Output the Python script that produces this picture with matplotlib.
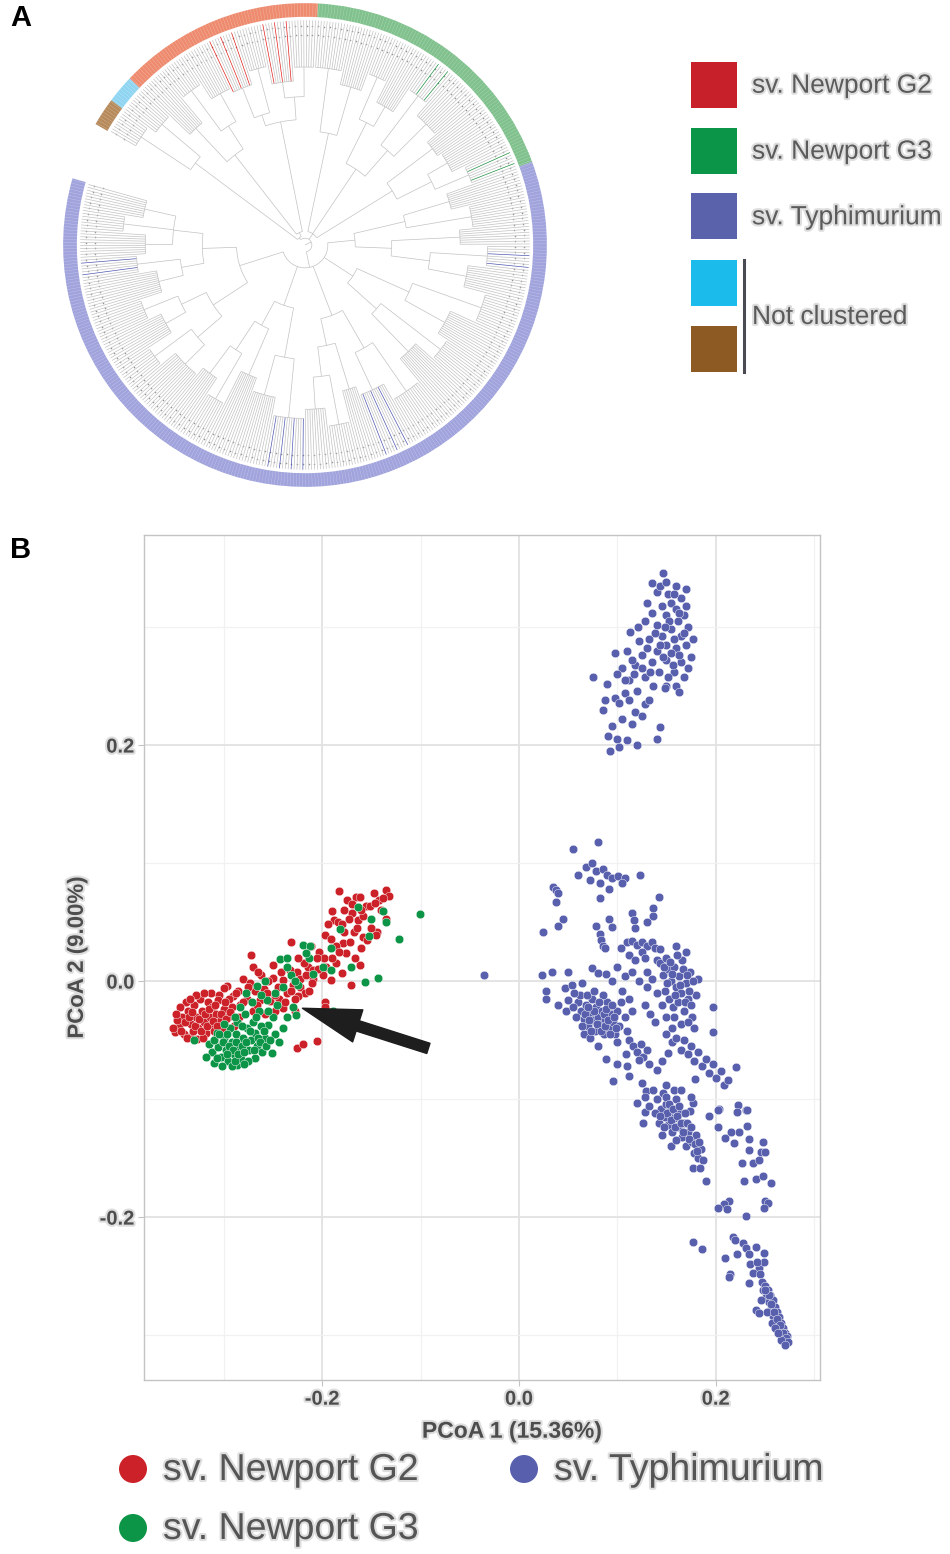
import numpy as np
import matplotlib
matplotlib.use('Agg')
import matplotlib.pyplot as plt
from matplotlib.patches import Wedge, Rectangle, Circle
from matplotlib.collections import LineCollection
import matplotlib.patheffects as pe

plt.rcParams['font.family'] = ['Liberation Sans', 'DejaVu Sans']

# ---------------- panel A : tree (ring order, counter-clockwise) ----------------
group_names = ['sv. Typhimurium', 'sv. Newport G3', 'sv. Newport G2', 'nc light', 'nc brown']
group_tips = [288, 89, 66, 9, 9]
ring_colors = ['#a0a3dc', '#80c18d', '#ee8b6f', '#8fd5f2', '#b68a5b']
branch_colors = ['#4e57b2', '#1c8e3e', '#e3201b', '#33b4e6', '#8c5a22']
tree_start = 164.0   # degrees, where the blue clade starts
tree_span = 346.0

# nodes: [radius, child, child, ...]; fans of tips: (radius, n_tips[, highlighted])
blue_tree = [0.10,
             [0.30,
              [0.45, [0.58, (0.72, 9), (0.80, 7), (0.70, 10)], [0.55, (0.74, 8, 1), (0.66, 12)]],
              [0.48, [0.60, (0.76, 9), (0.70, 11)], [0.62, (0.82, 8), (0.74, 14)]]],
             [0.28,
              [0.40, [0.55, (0.70, 9), (0.78, 8)], (0.62, 10)],
              [0.50, (0.68, 12), (0.76, 14, 1)]],
             [0.33,
              [0.45, [0.58, (0.72, 10), (0.80, 9)], (0.66, 8)],
              [0.52, (0.70, 13, 1), (0.78, 13)]],
             [0.25,
              [0.42, (0.65, 12), (0.75, 10)],
              [0.50, (0.70, 13), (0.82, 12)]],
             [0.22,
              [0.38, [0.55, (0.72, 11), (0.80, 9, 1)], (0.68, 8)],
              [0.45, (0.74, 10), (0.66, 9)]]]
green_tree = [0.06,
              [0.45, [0.62, (0.78, 8, 1), (0.72, 10)], (0.70, 9)],
              [0.40, [0.55, (0.75, 12), (0.82, 9, 1)], [0.60, (0.70, 10), (0.80, 8)]],
              [0.50, (0.72, 11), (0.78, 12)]]
red_tree = [0.06,
            [0.55, [0.65, (0.78, 9), (0.72, 11, 1)], [0.60, (0.80, 8), (0.74, 10, 1)]],
            [0.50, [0.62, (0.76, 10), (0.84, 9)], (0.70, 9)]]
nc_tree = [0.60, (0.82, 9), (0.86, 9)]
tree = [0.03, blue_tree, green_tree, [0.04, red_tree, nc_tree]]

# ---------------- panel B : PCoA points ----------------
g2_pts = [(-0.183, 0.076), (-0.175, 0.069), (-0.166, 0.071), (-0.161, 0.071), (-0.147, 0.075),
          (-0.135, 0.077), (-0.132, 0.072), (-0.142, 0.069), (-0.155, 0.064), (-0.151, 0.064),
          (-0.190, 0.059), (-0.170, 0.058), (-0.173, 0.053), (-0.164, 0.052), (-0.188, 0.052),
          (-0.184, 0.050), (-0.135, 0.053), (-0.194, 0.048), (-0.178, 0.042), (-0.168, 0.042),
          (-0.144, 0.042), (-0.145, 0.039), (-0.197, 0.039), (-0.191, 0.036), (-0.158, 0.037),
          (-0.154, 0.035), (-0.179, 0.032), (-0.176, 0.024), (-0.232, 0.033), (-0.203, 0.025),
          (-0.198, 0.020), (-0.205, 0.020), (-0.272, 0.022), (-0.250, 0.014), (-0.270, 0.012),
          (-0.161, 0.014), (-0.214, 0.012), (-0.209, 0.009), (-0.199, 0.005), (-0.226, 0.008),
          (-0.233, 0.009), (-0.180, 0.007), (-0.191, 0.001), (-0.171, -0.003), (-0.209, 0.002),
          (-0.250, 0.003), (-0.240, 0.001), (-0.280, 0.002), (-0.297, -0.004), (-0.300, -0.006),
          (-0.273, -0.002), (-0.268, -0.008), (-0.259, -0.007), (-0.222, -0.005), (-0.217, -0.010),
          (-0.225, -0.013), (-0.236, -0.010), (-0.244, -0.015), (-0.253, -0.017), (-0.263, -0.016),
          (-0.313, -0.010), (-0.305, -0.012), (-0.291, -0.013), (-0.283, -0.020), (-0.270, -0.025),
          (-0.197, -0.018), (-0.197, -0.022), (-0.240, -0.023), (-0.228, -0.025), (-0.226, -0.057),
          (-0.219, -0.053), (-0.205, -0.051), (-0.213, -0.008), (-0.230, -0.003), (-0.245, -0.005),
          (-0.255, 0.000), (-0.262, 0.005), (-0.285, -0.008), (-0.295, -0.015), (-0.276, -0.015),
          (-0.248, -0.025), (-0.258, -0.028), (-0.265, 0.008), (-0.242, 0.008), (-0.218, 0.015),
          (-0.225, 0.020), (-0.211, 0.030), (-0.186, 0.015), (-0.167, 0.020), (-0.160, 0.028),
          (-0.150, 0.045), (-0.140, 0.060), (-0.158, 0.055), (-0.178, 0.060), (-0.186, 0.030),
          (-0.350, -0.043), (-0.345, -0.038), (-0.342, -0.030), (-0.340, -0.045), (-0.336, -0.025),
          (-0.334, -0.047), (-0.333, -0.036), (-0.330, -0.020), (-0.328, -0.030), (-0.327, -0.049),
          (-0.326, -0.040), (-0.324, -0.015), (-0.322, -0.025), (-0.320, -0.035), (-0.318, -0.044),
          (-0.316, -0.018), (-0.314, -0.030), (-0.314, -0.037), (-0.312, -0.022), (-0.310, -0.042),
          (-0.308, -0.028), (-0.306, -0.016), (-0.304, -0.034), (-0.338, -0.018), (-0.344, -0.022),
          (-0.347, -0.033), (-0.331, -0.042), (-0.321, -0.048), (-0.300, -0.024), (-0.296, -0.030),
          (-0.302, -0.040), (-0.310, -0.050), (-0.292, -0.022), (-0.288, -0.010), (-0.284, -0.030),
          (-0.290, -0.038),
          (-0.352, -0.040), (-0.348, -0.028), (-0.343, -0.042), (-0.339, -0.035), (-0.337, -0.048),
          (-0.335, -0.030), (-0.332, -0.026), (-0.329, -0.038), (-0.325, -0.032), (-0.323, -0.042),
          (-0.319, -0.028), (-0.317, -0.038), (-0.315, -0.024), (-0.311, -0.034), (-0.309, -0.020),
          (-0.307, -0.038), (-0.303, -0.028), (-0.299, -0.018), (-0.298, -0.032), (-0.294, -0.026),
          (-0.328, -0.012), (-0.320, -0.010), (-0.334, -0.015), (-0.280, -0.018), (-0.275, -0.005),
          (-0.266, -0.020), (-0.256, -0.010), (-0.248, -0.012), (-0.238, -0.018), (-0.232, -0.008),
          (-0.228, -0.015), (-0.222, 0.002), (-0.216, 0.005), (-0.210, -0.002), (-0.204, 0.010),
          (-0.196, 0.012), (-0.190, 0.020), (-0.183, 0.025), (-0.172, 0.033), (-0.165, 0.045),
          (-0.180, 0.048), (-0.170, 0.065), (-0.160, 0.060), (-0.146, 0.066), (-0.138, 0.070)]

g3_pts = [(-0.101, 0.057), (-0.122, 0.036), (-0.138, 0.059), (-0.135, 0.050), (-0.164, 0.063),
          (-0.150, 0.053), (-0.152, 0.038), (-0.182, 0.044), (-0.191, 0.028), (-0.219, 0.031),
          (-0.212, 0.030), (-0.213, 0.020), (-0.216, 0.024), (-0.199, 0.012), (-0.191, 0.009),
          (-0.171, 0.012), (-0.156, -0.001), (-0.143, 0.003), (-0.243, 0.019), (-0.236, 0.020),
          (-0.236, 0.012), (-0.258, 0.000), (-0.266, -0.004), (-0.277, -0.010), (-0.224, -0.003),
          (-0.209, 0.006), (-0.256, -0.016), (-0.246, -0.020), (-0.230, -0.022), (-0.227, -0.029),
          (-0.236, -0.030), (-0.189, -0.025), (-0.310, -0.069), (-0.286, -0.071), (-0.268, -0.065),
          (-0.251, -0.061), (-0.258, -0.048), (-0.255, -0.037), (-0.315, -0.053), (-0.330, -0.050),
          (-0.307, -0.044), (-0.312, -0.060), (-0.306, -0.056), (-0.303, -0.064), (-0.300, -0.048),
          (-0.298, -0.058), (-0.296, -0.068), (-0.294, -0.040), (-0.292, -0.052), (-0.290, -0.062),
          (-0.288, -0.045), (-0.286, -0.035), (-0.284, -0.056), (-0.282, -0.066), (-0.280, -0.048),
          (-0.278, -0.028), (-0.276, -0.040), (-0.274, -0.058), (-0.272, -0.050), (-0.270, -0.035),
          (-0.268, -0.044), (-0.266, -0.055), (-0.264, -0.025), (-0.262, -0.038), (-0.261, -0.060),
          (-0.275, -0.068), (-0.292, -0.072), (-0.302, -0.072), (-0.283, -0.022), (-0.271, -0.018),
          (-0.262, -0.012), (-0.250, -0.030), (-0.248, -0.045), (-0.244, -0.052), (-0.240, -0.040),
          (-0.300, -0.036), (-0.318, -0.064),
          (-0.310, -0.050), (-0.305, -0.045), (-0.301, -0.052), (-0.297, -0.045), (-0.295, -0.055),
          (-0.291, -0.058), (-0.289, -0.068), (-0.287, -0.052), (-0.285, -0.062), (-0.281, -0.055),
          (-0.279, -0.060), (-0.277, -0.052), (-0.273, -0.042), (-0.269, -0.058), (-0.267, -0.030),
          (-0.265, -0.048), (-0.263, -0.052), (-0.259, -0.042), (-0.257, -0.055), (-0.253, -0.050),
          (-0.281, -0.038), (-0.289, -0.030), (-0.297, -0.062), (-0.307, -0.065), (-0.279, -0.070),
          (-0.255, -0.025), (-0.248, -0.010), (-0.240, -0.005), (-0.232, 0.005), (-0.228, 0.000)]

typh_pts = [(-0.035, 0.005),
            # upper group
            (0.146, 0.346), (0.135, 0.337), (0.160, 0.335), (0.170, 0.332), (0.165, 0.325),
            (0.152, 0.328), (0.140, 0.330), (0.155, 0.320), (0.145, 0.318), (0.160, 0.315),
            (0.170, 0.318), (0.135, 0.312), (0.150, 0.310), (0.162, 0.305), (0.172, 0.300),
            (0.140, 0.302), (0.128, 0.305), (0.155, 0.298), (0.145, 0.292), (0.165, 0.292),
            (0.132, 0.290), (0.150, 0.285), (0.160, 0.282), (0.170, 0.285), (0.122, 0.288),
            (0.140, 0.280), (0.113, 0.296), (0.110, 0.280), (0.125, 0.276), (0.135, 0.270),
            (0.150, 0.272), (0.165, 0.270), (0.175, 0.275), (0.118, 0.268), (0.105, 0.265),
            (0.098, 0.278), (0.142, 0.262), (0.158, 0.262), (0.168, 0.258), (0.128, 0.258),
            (0.112, 0.255), (0.100, 0.260), (0.136, 0.250), (0.150, 0.250), (0.160, 0.250),
            (0.120, 0.246), (0.108, 0.244), (0.075, 0.258), (0.090, 0.252), (0.088, 0.238),
            (0.098, 0.240), (0.102, 0.236), (0.085, 0.230), (0.112, 0.238), (0.128, 0.235),
            (0.118, 0.228), (0.125, 0.225), (0.105, 0.222), (0.095, 0.216), (0.115, 0.218),
            (0.091, 0.208), (0.100, 0.205), (0.110, 0.204), (0.143, 0.215), (0.140, 0.205),
            (0.148, 0.248), (0.093, 0.195), (0.120, 0.200), (0.102, 0.198), (0.132, 0.238),
            (0.143, 0.335), (0.150, 0.338), (0.158, 0.328), (0.168, 0.310), (0.163, 0.312),
            (0.153, 0.305), (0.148, 0.300), (0.158, 0.290), (0.168, 0.295), (0.138, 0.295),
            (0.143, 0.285), (0.155, 0.278), (0.163, 0.276), (0.130, 0.282), (0.146, 0.275),
            (0.157, 0.268), (0.125, 0.265), (0.133, 0.262), (0.152, 0.258), (0.163, 0.245),
            (0.117, 0.260), (0.172, 0.265), (0.177, 0.290), (0.130, 0.320), (0.121, 0.300),
            (0.115, 0.272), (0.108, 0.255),
            # lower group
            (0.080, 0.118), (0.055, 0.112), (0.068, 0.097), (0.074, 0.100), (0.078, 0.093),
            (0.085, 0.095), (0.060, 0.090), (0.072, 0.086), (0.090, 0.090), (0.095, 0.087),
            (0.101, 0.089), (0.108, 0.087), (0.105, 0.083), (0.123, 0.090), (0.082, 0.083),
            (0.092, 0.078), (0.035, 0.080), (0.038, 0.077), (0.040, 0.075), (0.038, 0.067),
            (0.025, 0.042), (0.045, 0.053), (0.040, 0.047), (0.082, 0.070), (0.078, 0.047),
            (0.082, 0.040), (0.083, 0.035), (0.085, 0.030), (0.087, 0.028), (0.092, 0.053),
            (0.095, 0.046), (0.115, 0.058), (0.117, 0.052), (0.118, 0.045), (0.136, 0.062),
            (0.142, 0.071), (0.136, 0.055), (0.130, 0.050), (0.110, 0.033), (0.115, 0.034),
            (0.120, 0.031), (0.125, 0.033), (0.130, 0.030), (0.135, 0.033), (0.138, 0.028),
            (0.143, 0.027), (0.125, 0.025), (0.112, 0.022), (0.118, 0.018), (0.128, 0.020),
            (0.140, 0.018), (0.104, 0.028), (0.023, 0.005), (0.034, 0.008), (0.050, 0.008),
            (0.028, -0.008), (0.028, -0.015), (0.047, -0.006), (0.054, -0.003), (0.064, -0.002),
            (0.074, 0.011), (0.080, 0.007), (0.089, 0.006), (0.095, 0.000), (0.100, 0.012),
            (0.108, 0.004), (0.115, 0.008), (0.122, 0.000), (0.105, -0.008), (0.112, -0.015),
            (0.130, 0.008), (0.040, -0.020), (0.048, -0.025), (0.060, -0.018), (0.063, -0.025),
            (0.066, -0.032), (0.068, -0.020), (0.070, -0.038), (0.072, -0.027), (0.074, -0.015),
            (0.075, -0.033), (0.077, -0.042), (0.078, -0.022), (0.080, -0.030), (0.082, -0.036),
            (0.084, -0.025), (0.086, -0.045), (0.088, -0.032), (0.090, -0.018), (0.092, -0.040),
            (0.094, -0.028), (0.096, -0.035), (0.098, -0.045), (0.100, -0.025), (0.102, -0.038),
            (0.066, -0.045), (0.072, -0.048), (0.058, -0.030), (0.055, -0.022), (0.085, -0.012),
            (0.104, -0.018), (0.108, -0.030), (0.110, -0.042), (0.112, -0.050), (0.100, -0.052),
            (0.115, -0.025), (0.143, 0.015), (0.146, 0.005), (0.148, -0.008), (0.150, 0.020),
            (0.152, 0.010), (0.153, -0.015), (0.155, 0.000), (0.157, -0.022), (0.158, 0.012),
            (0.160, -0.005), (0.162, -0.018), (0.163, 0.004), (0.165, -0.010), (0.166, 0.018),
            (0.168, -0.025), (0.170, -0.002), (0.172, -0.015), (0.174, 0.008), (0.176, -0.030),
            (0.150, -0.030), (0.145, -0.020), (0.140, -0.010), (0.135, 0.002), (0.130, -0.005),
            (0.128, -0.020), (0.133, -0.028), (0.138, -0.035), (0.156, -0.040), (0.165, -0.036),
            (0.180, -0.012), (0.182, 0.002), (0.160, 0.030), (0.170, 0.025), (0.116, -0.055),
            (0.120, -0.060), (0.124, -0.053), (0.126, -0.064), (0.130, -0.058), (0.122, -0.067),
            (0.110, -0.072), (0.100, -0.070), (0.132, -0.070), (0.096, -0.085), (0.150, -0.045),
            (0.156, -0.052), (0.160, -0.048), (0.165, -0.058), (0.168, -0.050), (0.172, -0.062),
            (0.175, -0.055), (0.178, -0.068), (0.182, -0.060), (0.186, -0.072), (0.190, -0.066),
            (0.193, -0.078), (0.197, -0.070), (0.200, -0.082), (0.205, -0.076), (0.208, -0.088),
            (0.212, -0.084), (0.197, -0.022), (0.197, -0.043), (0.221, -0.073), (0.231, -0.109),
            (0.140, -0.075), (0.145, -0.068), (0.089, -0.066), (0.080, -0.055), (0.112, -0.080),
            (0.120, -0.103), (0.125, -0.086), (0.129, -0.093), (0.128, -0.111), (0.126, -0.120),
            (0.109, -0.062), (0.152, -0.061), (0.158, -0.092), (0.177, -0.103), (0.179, -0.083),
            (0.193, -0.114), (0.203, -0.108), (0.223, -0.105), (0.232, -0.109), (0.232, -0.123),
            (0.062, -0.012), (0.064, -0.038), (0.067, -0.028), (0.069, -0.012), (0.071, -0.033),
            (0.073, -0.042), (0.076, -0.025), (0.079, -0.036), (0.081, -0.018), (0.083, -0.042),
            (0.086, -0.028), (0.087, -0.038), (0.089, -0.024), (0.091, -0.033), (0.093, -0.045),
            (0.095, -0.020), (0.097, -0.030), (0.099, -0.040), (0.070, -0.022), (0.076, -0.008),
            (0.056, -0.010), (0.050, -0.016), (0.147, 0.012), (0.151, -0.002), (0.154, 0.016),
            (0.156, 0.006), (0.159, -0.012), (0.161, 0.022), (0.164, -0.003), (0.167, 0.010),
            (0.169, -0.018), (0.171, 0.005), (0.173, -0.008), (0.175, -0.020), (0.177, 0.000),
            (0.178, -0.040), (0.172, -0.035), (0.158, -0.030),
            (0.136, -0.092), (0.140, -0.100), (0.144, -0.108), (0.146, -0.095), (0.148, -0.115),
            (0.150, -0.104), (0.152, -0.122), (0.154, -0.110), (0.156, -0.128), (0.158, -0.116),
            (0.160, -0.100), (0.162, -0.124), (0.164, -0.112), (0.166, -0.132), (0.168, -0.120),
            (0.170, -0.140), (0.172, -0.128), (0.174, -0.110), (0.176, -0.136), (0.178, -0.146),
            (0.180, -0.130), (0.182, -0.150), (0.185, -0.142), (0.187, -0.152), (0.142, -0.120),
            (0.138, -0.112), (0.132, -0.106), (0.128, -0.098), (0.155, -0.140), (0.160, -0.135),
            (0.145, -0.130), (0.177, -0.158), (0.190, -0.169), (0.150, -0.088), (0.165, -0.092),
            (0.175, -0.098), (0.149, -0.098), (0.151, -0.112), (0.153, -0.104), (0.155, -0.118),
            (0.157, -0.108), (0.159, -0.124), (0.161, -0.114), (0.163, -0.106), (0.165, -0.120),
            (0.167, -0.128), (0.169, -0.112), (0.171, -0.120), (0.173, -0.134), (0.175, -0.124),
            (0.179, -0.138), (0.181, -0.144), (0.183, -0.136), (0.147, -0.124), (0.143, -0.114),
            (0.184, -0.158), (0.202, -0.109), (0.222, -0.111), (0.202, -0.124), (0.216, -0.128),
            (0.224, -0.128), (0.209, -0.133), (0.219, -0.137), (0.234, -0.134), (0.248, -0.136),
            (0.234, -0.143), (0.246, -0.145), (0.250, -0.145), (0.227, -0.154), (0.238, -0.154),
            (0.244, -0.152), (0.229, -0.169), (0.241, -0.168), (0.248, -0.165), (0.256, -0.171),
            (0.250, -0.186), (0.253, -0.188), (0.249, -0.192), (0.214, -0.186), (0.208, -0.189),
            (0.202, -0.192), (0.211, -0.193), (0.231, -0.199), (0.177, -0.221), (0.186, -0.227),
            (0.218, -0.217), (0.220, -0.219), (0.228, -0.222), (0.231, -0.226), (0.241, -0.225),
            (0.249, -0.230), (0.222, -0.231), (0.234, -0.231), (0.209, -0.235), (0.215, -0.248),
            (0.214, -0.251), (0.235, -0.240), (0.244, -0.243), (0.249, -0.238), (0.238, -0.247),
            (0.234, -0.256), (0.241, -0.279), (0.244, -0.281), (0.242, -0.238), (0.245, -0.248),
            (0.247, -0.255), (0.248, -0.262), (0.250, -0.258), (0.251, -0.268), (0.253, -0.262),
            (0.254, -0.272), (0.255, -0.266), (0.256, -0.278), (0.258, -0.270), (0.258, -0.284),
            (0.260, -0.276), (0.261, -0.288), (0.262, -0.280), (0.263, -0.292), (0.264, -0.285),
            (0.265, -0.296), (0.266, -0.290), (0.267, -0.300), (0.268, -0.294), (0.269, -0.303),
            (0.270, -0.298), (0.271, -0.306), (0.272, -0.301), (0.257, -0.290), (0.252, -0.280),
            (0.246, -0.270), (0.256, -0.274), (0.259, -0.280), (0.262, -0.286), (0.265, -0.291),
            (0.268, -0.298), (0.271, -0.302), (0.273, -0.306), (0.254, -0.266), (0.250, -0.262),
            (0.260, -0.294), (0.266, -0.304), (0.263, -0.298), (0.270, -0.308)]

pcoa_labels = ['sv. Newport G2', 'sv. Newport G3', 'sv. Typhimurium']
pcoa_colors = ['#cc2128', '#0c9546', '#5860ad']
x_major = [-0.2, 0.0, 0.2]
y_major = [-0.2, 0.0, 0.2]
x_minor = [-0.3, -0.1, 0.1, 0.3]
y_minor = [-0.3, -0.1, 0.1, 0.3]
arrow_tip = (-0.220, -0.023)
arrow_tail = (-0.092, -0.057)

legend_a = ['sv. Newport G2', 'sv. Newport G3', 'sv. Typhimurium']
legend_a_colors = ['#c8202a', '#0a9548', '#5b62ac', '#1bbceb', '#8c5a22']

# ------------------------------------------------------------------
fig = plt.figure(figsize=(9.5, 15.54), dpi=100)
halo = [pe.withStroke(linewidth=3, foreground='#dedede')]

# ---- tree ----
axt = fig.add_axes([54 / 950, 1 - 496 / 1554, 502 / 950, 502 / 1554])
axt.set_xlim(-1.1, 1.1)
axt.set_ylim(-1.1, 1.1)
axt.set_aspect('equal')
axt.axis('off')

n_tips = sum(group_tips)
step = tree_span / n_tips
bounds = np.cumsum([0] + group_tips)
segs, cols = [], []
tip_angles = []
counter = [0]


def group_of(i):
    return int(np.searchsorted(bounds, i, side='right') - 1)


def radial(r0, r1, a, c):
    t = np.radians(a)
    segs.append([(r0 * np.cos(t), r0 * np.sin(t)), (r1 * np.cos(t), r1 * np.sin(t))])
    cols.append(c)


def arc(r, a0, a1, c):
    t = np.radians(np.linspace(a0, a1, max(2, int(abs(a1 - a0)) + 2)))
    segs.append(np.column_stack([r * np.cos(t), r * np.sin(t)]))
    cols.append(c)


gray = '#c2c2c2'


def walk(node, parent_r):
    if isinstance(node, tuple):
        r, n = node[0], node[1]
        first = counter[0]
        hl = len(node) > 2
        angs = [tree_start + (first + k + 0.5) * step for k in range(n)]
        counter[0] += n
        for k, a in enumerate(angs):
            c = branch_colors[group_of(first)] if (hl and k % 4 == 1) else gray
            radial(r, 0.985, a, c)
            tip_angles.append(a)
        arc(r, angs[0], angs[-1], gray)
        mid = 0.5 * (angs[0] + angs[-1])
    else:
        r = node[0]
        mids = [walk(ch, r) for ch in node[1:]]
        arc(r, mids[0], mids[-1], gray)
        mid = 0.5 * (mids[0] + mids[-1])
    radial(parent_r, r, mid, gray)
    return mid


walk(tree, 0.0)
axt.add_collection(LineCollection(segs, colors=cols, linewidths=0.5))

ta = np.radians(tip_angles)
for rr in (0.92, 0.96):
    axt.scatter(rr * np.cos(ta[::2]), rr * np.sin(ta[::2]), s=1.3, color='#3a3a3a', alpha=0.55, lw=0)

for g in range(len(group_tips)):
    a0 = tree_start + bounds[g] * step
    a1 = tree_start + bounds[g + 1] * step
    axt.add_patch(Wedge((0, 0), 1.06, a0, a1, width=0.06, facecolor=ring_colors[g], edgecolor='none'))
for a in tip_angles:
    t = np.radians(a)
    axt.plot([1.0 * np.cos(t), 1.06 * np.cos(t)], [1.0 * np.sin(t), 1.06 * np.sin(t)],
             color='white', lw=0.25, alpha=0.45)

# ---- PCoA ----
ax = fig.add_axes([144 / 950, 1 - 1380 / 1554, 676 / 950, 845 / 1554])
ax.set_xlim(-0.381, 0.306)
ax.set_ylim(-0.338, 0.378)
ax.set_xticks(x_major)
ax.set_yticks(y_major)
ax.set_xticks(x_minor, minor=True)
ax.set_yticks(y_minor, minor=True)
ax.set_xticklabels(['-0.2', '0.0', '0.2'])
ax.set_yticklabels(['-0.2', '0.0', '0.2'])
ax.grid(which='major', color='#e2e2e2', lw=1.3)
ax.grid(which='minor', color='#f1f1f1', lw=0.9)
ax.set_axisbelow(True)
for s in ax.spines.values():
    s.set_color('#c4c4c4')
    s.set_linewidth(1.0)
ax.tick_params(which='major', length=4, color='#c4c4c4', labelsize=14.5, labelcolor='#4d4d4d', pad=3)
ax.tick_params(which='minor', length=0)
for lab in ax.get_xticklabels() + ax.get_yticklabels():
    lab.set_fontweight('bold')
    lab.set_path_effects(halo)

for pts, col in zip([g2_pts, g3_pts, typh_pts], pcoa_colors):
    p = np.array(pts)
    ax.scatter(p[:, 0], p[:, 1], s=38, color=col, edgecolors='white', linewidths=0.3, zorder=3)

ax.annotate('', xy=arrow_tip, xytext=arrow_tail, zorder=5,
            arrowprops=dict(arrowstyle='simple,head_length=1.9,head_width=1.1,tail_width=0.35',
                            fc='#1e1e1e', ec='#1e1e1e', mutation_scale=22, shrinkA=0, shrinkB=0,
                            path_effects=[pe.withSimplePatchShadow(offset=(0, 0), shadow_rgbFace='#777', alpha=0.5)]))

ax.set_xlabel('PCoA 1 (15.36%)', fontsize=16.5, fontweight='bold', color='#4d4d4d', path_effects=halo)
ax.set_ylabel('PCoA 2 (9.00%)', fontsize=16, fontweight='bold', color='#4d4d4d', path_effects=halo)
ax.xaxis.set_label_coords(0.544, -0.047)
ax.yaxis.set_label_coords(-0.083, 0.50)

# ---- overlay: panel letters and legends (pixel coordinates) ----
ov = fig.add_axes([0, 0, 1, 1])
ov.set_xlim(0, 950)
ov.set_ylim(1554, 0)
ov.axis('off')
ov.patch.set_visible(False)

ov.text(10, 18, 'A', fontsize=21, fontweight='bold', va='center', ha='left', color='black')
ov.text(10, 550, 'B', fontsize=21, fontweight='bold', va='center', ha='left', color='black')

sq_y = [61.7, 127.7, 193.3, 260, 326]
for y, c in zip(sq_y, legend_a_colors):
    ov.add_patch(Rectangle((690.7, y), 46, 46, facecolor=c, edgecolor='none'))
for y, t in zip(sq_y[:3], legend_a):
    ov.text(752, y + 24, t, fontsize=19, color='#5b5b5b', va='center', ha='left', path_effects=halo)
ov.plot([744, 744], [260, 372], color='#4a4a52', lw=2.2)
ov.text(752, 317, 'Not clustered', fontsize=19, color='#5b5b5b', va='center', ha='left', path_effects=halo)

leg_pos = [(133, 1469), (133, 1528), (524, 1469)]
for (x, y), t, c in zip(leg_pos, pcoa_labels, pcoa_colors):
    ov.add_patch(Circle((x, y), 14, facecolor=c, edgecolor='none'))
    ov.text(x + 30, y + 1, t, fontsize=27, color='#555555', va='center', ha='left', path_effects=halo)

fig.savefig('out.png', dpi=100)
